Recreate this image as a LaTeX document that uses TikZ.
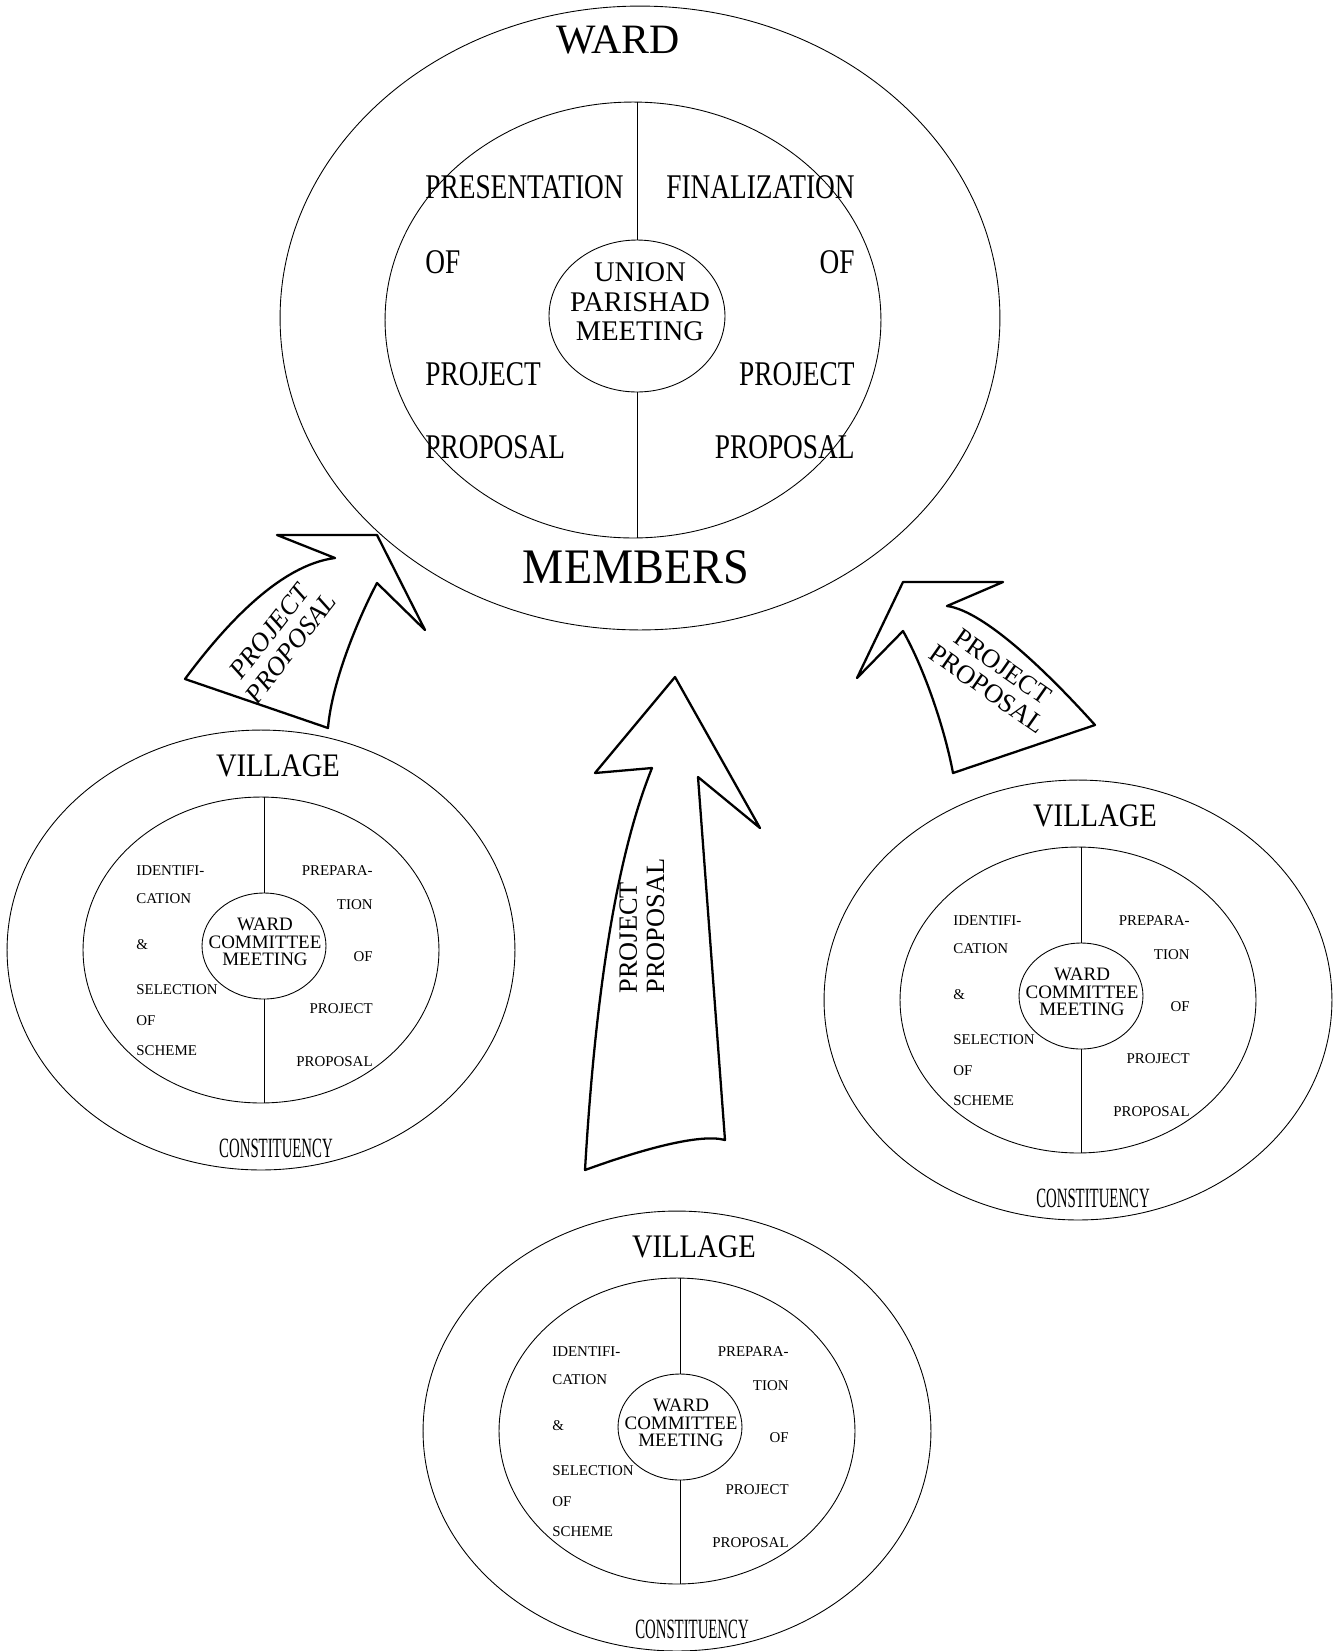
\documentclass[tikz,border=0pt]{standalone}
\usepackage{fontspec}
\setmainfont{Liberation Serif}
\newfontfamily\narrowserif[FakeStretch=0.79]{Liberation Serif}
\newfontfamily\villageserif[FakeStretch=0.87]{Liberation Serif}
\newfontfamily\constserif[FakeStretch=0.53]{Liberation Serif}
\newfontfamily\membersserif[FakeStretch=0.93]{Liberation Serif}
\usetikzlibrary{shapes.geometric, positioning}

\tikzset{
  ring/.style={draw, ellipse, inner sep=0pt, line width=0.5pt},
  quarter/.style={inner sep=0pt, font=\narrowserif\fontsize{19.7}{20}\selectfont},
  smalltxt/.style={inner sep=0pt, font=\fontsize{8.5}{9}\selectfont},
  bigarrow/.style={draw, line width=1.3pt, line join=round},
  arrowtext/.style={inner sep=0pt, align=center, font=\fontsize{15}{15.5}\selectfont}
}

\begin{document}
\begin{tikzpicture}[x=0.02cm, y=-0.02cm]
\useasboundingbox (0,0) rectangle (1337,1651);

% union parishad meeting
\node[ring, minimum width=14.4cm, minimum height=12.48cm] (wardOuter) at (640,318) {};
\node[ring, minimum width=9.92cm, minimum height=8.72cm] (wardInner) at (633,320) {};
\node[ring, minimum width=3.52cm, minimum height=3.04cm] (upMeet) at (637,316) {};
\draw[line width=0.5pt] (upMeet.north |- wardInner.north) -- (upMeet.north);
\draw[line width=0.5pt] (upMeet.south) -- (upMeet.south |- wardInner.south);

\node[anchor=base, inner sep=0pt, font=\fontsize{23.8}{24}\selectfont] (wardTitle) at (618,53) {WARD};
\node[anchor=base, inner sep=0pt, font=\membersserif\fontsize{28.3}{28}\selectfont] (members) at (636,583) {MEMBERS};
\node[align=center, inner sep=0pt, font=\fontsize{16.2}{16.8}\selectfont] (upText) at (640,302) {UNION\\PARISHAD\\MEETING};

\foreach \word/\y [count=\i] in {PRESENTATION/198, OF/273, PROJECT/385, PROPOSAL/458}
  \node[quarter, anchor=base west] (pres\i) at (425,\y) {\word};
\foreach \word/\y [count=\i] in {FINALIZATION/198, OF/273, PROJECT/385, PROPOSAL/458}
  \node[quarter, anchor=base east] (fin\i) at (855,\y) {\word};

% ward committee meetings
\foreach \vn/\cx/\cy in {left/261/950, right/1078/1000, bottom/677/1431} {
  \node[ring, minimum width=10.16cm, minimum height=8.8cm] (\vn-outer) at (\cx,\cy) {};
  \node[ring, minimum width=7.12cm, minimum height=6.12cm] (\vn-inner) at (\cx,\cy) {};
  \node[ring, minimum width=2.48cm, minimum height=2.12cm] (\vn-core) at ({\cx+3},{\cy-4}) {};
  \draw[line width=0.5pt] (\vn-core.north |- \vn-inner.north) -- (\vn-core.north);
  \draw[line width=0.5pt] (\vn-core.south) -- (\vn-core.south |- \vn-inner.south);
  \node[anchor=base, inner sep=0pt, font=\villageserif\fontsize{18.7}{19}\selectfont] (\vn-title) at ({\cx+17},{\cy-174}) {VILLAGE};
  \foreach \word/\dy [count=\i] in {IDENTIFI-/-75, CATION/-47, \&/-1, SELECTION/44, OF/75, SCHEME/105}
    \node[smalltxt, anchor=base west] (\vn-l\i) at ({\cx-125},{\cy+(\dy)}) {\word};
  \foreach \word/\dy [count=\i] in {PREPARA-/-75, TION/-41, OF/11, PROJECT/63, PROPOSAL/116}
    \node[smalltxt, anchor=base east] (\vn-r\i) at ({\cx+112},{\cy+(\dy)}) {\word};
  \node[align=center, inner sep=0pt, font=\fontsize{10.8}{10}\selectfont] (\vn-meet) at ({\cx+4},{\cy-8}) {WARD\\COMMITTEE\\MEETING};
  \node[anchor=base, inner sep=0pt, font=\constserif\fontsize{15.9}{16}\selectfont] (\vn-const) at ({\cx+15},{\cy+207}) {CONSTITUENCY};
}

% arrows
\draw[bigarrow] (185,679) .. controls (225,625) and (280,565) .. (335,558) -- (277,535) -- (377,535) -- (425,630) -- (377,583) .. controls (360,615) and (332,680) .. (328,728) -- cycle;
\node[arrowtext, rotate=52, font=\itshape\fontsize{15}{15.5}\selectfont] (leftLabel) at (280,640) {PROJECT\\PROPOSAL};

\draw[bigarrow] (857,678) -- (903,582) -- (1003,582) -- (947,606) .. controls (985,611) and (1050,675) .. (1095,725) -- (953,773) .. controls (945,730) and (925,670) .. (903,631) -- cycle;
\node[arrowtext, rotate=-35] (rightLabel) at (995,678) {PROJECT\\PROPOSAL};

\draw[bigarrow] (675,677) -- (760,828) -- (698,777) -- (725,1140) .. controls (700,1133) and (640,1150) .. (585,1170) .. controls (595,1000) and (615,860) .. (652,768) -- (595,773) -- cycle;
\node[arrowtext, rotate=90, align=left] (centreLabel) at (642,926) {PROJECT\\PROPOSAL};
\end{tikzpicture}
\end{document}
